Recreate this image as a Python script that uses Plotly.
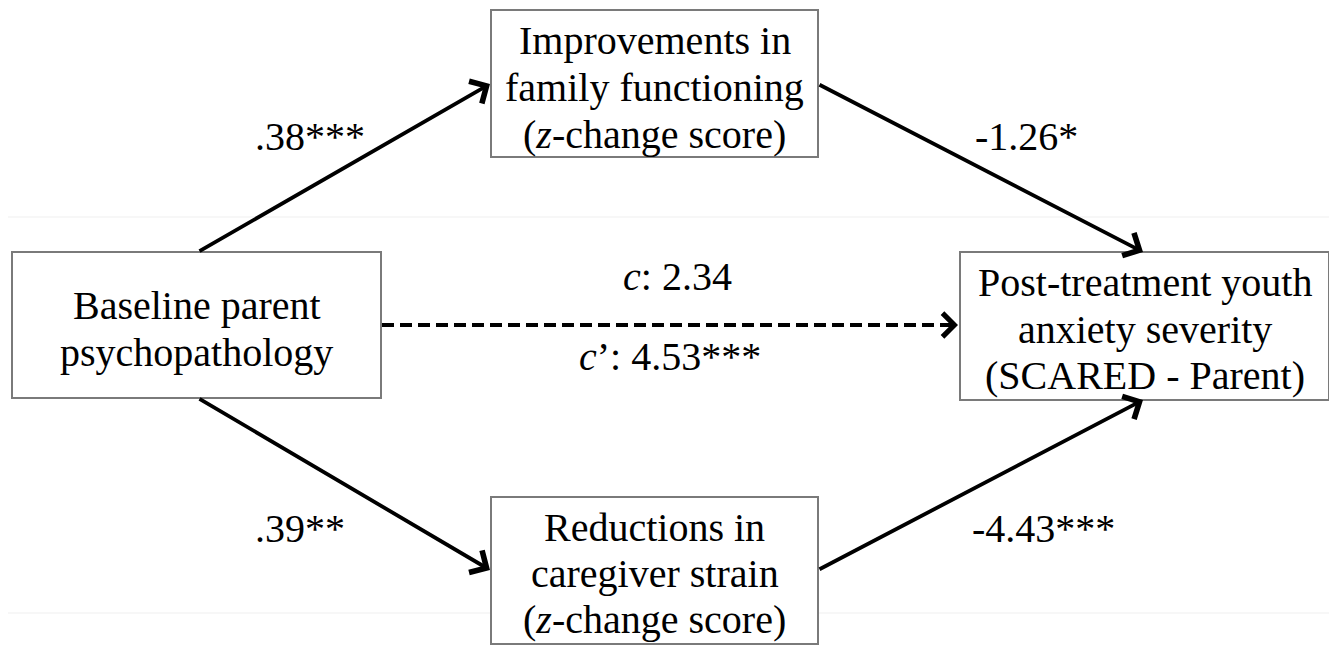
import plotly.graph_objects as go

# ---- content (text / values) ----
node_labels = [
    ["Baseline parent", "psychopathology"],
    ["Improvements in", "family functioning", "(<i>z</i>-change score)"],
    ["Post-treatment youth", "anxiety severity", "(SCARED - Parent)"],
    ["Reductions in", "caregiver strain", "(<i>z</i>-change score)"],
]
path_labels = [".38***", "-1.26*", ".39**", "-4.43***"]
direct_labels = ["<i>c</i>: 2.34", "<i>c</i>\u2019: 4.53***"]

# ---- layout geometry (page pixel coordinates, y down) ----
W, H = 1337, 646
OFF = 8  # browser body margin
boxes = [(12, 252, 381, 398), (491, 10, 818, 157), (960, 252, 1329, 400), (491, 497, 818, 644)]
line_centers = [[305, 352], [40, 87, 134], [282, 329, 375], [527, 573, 619]]
edges = [((198, 252), (490, 84)), ((818, 84), (1143, 252)),
         ((198, 398), (490, 570)), ((818, 570), (1143, 400))]
path_label_pos = [(310, 136), (1026, 136), (300, 528), (1043, 528)]
dashed = ((381, 325), (958, 325))
direct_label_pos = [(677, 276), (670, 356)]
faint_lines_y = [217, 613]

FONT = "Liberation Serif, Times New Roman, serif"
FS = 40
LW = 3.8

fig = go.Figure()
fig.add_trace(go.Scatter(x=[OFF, W], y=[OFF, H], mode="markers", marker=dict(opacity=0),
                         hoverinfo="skip", showlegend=False))

shapes = []
for y in faint_lines_y:
    shapes.append(dict(type="line", x0=0, x1=W, y0=y, y1=y, line=dict(color="#efefef", width=1), layer="below"))
for (x0, y0, x1, y1) in boxes:
    shapes.append(dict(type="rect", x0=x0, y0=y0, x1=x1, y1=y1, line=dict(color="#7a7a7a", width=2), fillcolor="white"))
(dx0, dy0), (dx1, dy1) = dashed
shapes.append(dict(type="line", x0=dx0 + 1, y0=dy0, x1=dx1 - 8, y1=dy1,
                   line=dict(color="black", width=LW, dash="12px,6px")))

annotations = []
for (x0, y0, x1, y1), lines, centers in zip(boxes, node_labels, line_centers):
    cx = (x0 + x1) / 2
    for txt, cy in zip(lines, centers):
        annotations.append(dict(x=cx, y=cy, text=txt, showarrow=False, xanchor="center", yanchor="middle",
                                font=dict(family=FONT, size=FS, color="black")))
for (tail, head) in edges:
    annotations.append(dict(x=head[0], y=head[1], ax=tail[0], ay=tail[1], axref="x", ayref="y",
                            xref="x", yref="y", text="", showarrow=True, arrowhead=4, arrowsize=1.3,
                            arrowwidth=LW, arrowcolor="black", standoff=0))
annotations.append(dict(x=dx1, y=dy1, ax=dx1 - 16, ay=dy1, axref="x", ayref="y", xref="x", yref="y",
                        text="", showarrow=True, arrowhead=4, arrowsize=1.2, arrowwidth=LW,
                        arrowcolor="black", standoff=0))
for txt, (x, y) in zip(path_labels, path_label_pos):
    annotations.append(dict(x=x, y=y, text=txt, showarrow=False, xanchor="center", yanchor="middle",
                            font=dict(family=FONT, size=FS, color="black")))
for txt, (x, y) in zip(direct_labels, direct_label_pos):
    annotations.append(dict(x=x, y=y, text=txt, showarrow=False, xanchor="center", yanchor="middle",
                            font=dict(family=FONT, size=FS, color="black")))

fig.update_layout(
    width=W - OFF, height=H - OFF, margin=dict(l=0, r=0, t=0, b=0),
    paper_bgcolor="white", plot_bgcolor="white",
    xaxis=dict(range=[OFF, W], visible=False, fixedrange=True),
    yaxis=dict(range=[H, OFF], visible=False, fixedrange=True),
    shapes=shapes, annotations=annotations, showlegend=False,
)
fig.write_html("out.html")
